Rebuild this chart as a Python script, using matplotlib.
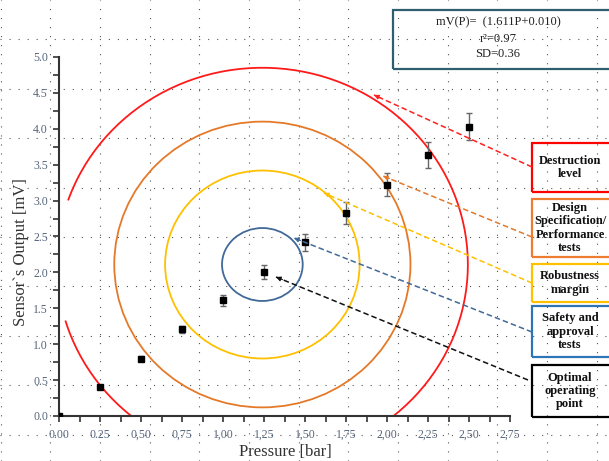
import matplotlib
matplotlib.use('Agg')
import matplotlib.pyplot as plt
from matplotlib.patches import Ellipse, Arc, Rectangle, FancyArrowPatch
from matplotlib.lines import Line2D
from matplotlib.ticker import MultipleLocator
import numpy as np

plt.rcParams['font.family'] = ['Liberation Serif', 'DejaVu Serif']
plt.rcParams['lines.scale_dashes'] = False

# ---- data ----
pressure = [0.0, 0.25, 0.50, 0.75, 1.00, 1.25, 1.50, 1.75, 2.00, 2.25, 2.50]
output_mv = [0.0, 0.40, 0.80, 1.21, 1.61, 2.01, 2.42, 2.83, 3.22, 3.63, 4.03]
output_err = [0.0, 0.02, 0.03, 0.05, 0.08, 0.10, 0.12, 0.15, 0.16, 0.18, 0.19]

x_tick_values = [0.0, 0.25, 0.50, 0.75, 1.00, 1.25, 1.50, 1.75, 2.00, 2.25, 2.50, 2.75]
x_tick_labels = ['0.00', '0.25', '0,50', '0,75', '1,00', '1,25', '1,50', '1,75',
                 '2,00', '2,25', '2,50', '2,75']
y_tick_values = [0.0, 0.5, 1.0, 1.5, 2.0, 2.5, 3.0, 3.5, 4.0, 4.5, 5.0]
y_tick_labels = ['0.0', '0.5', '1.0', '1.5', '2.0', '2.5', '3.0', '3.5', '4.0', '4.5', '5.0']

ring_center = (1.24, 2.11)
ring_names = ['Safety', 'Robustness', 'Design', 'Destruction']
ring_rx = [0.246, 0.593, 0.903, 1.253]
ring_ry = [0.508, 1.309, 1.990, 2.740]
ring_colors = ['#41699a', '#ffc000', '#e5792a', '#ff1a1a']

box_labels = ['Destruction\nlevel', 'Design\nSpecification/\nPerformance\ntests',
              'Robustness\nmargin', 'Safety and\napproval\ntests', 'Optimal\noperating\npoint']
box_colors = ['#ff0000', '#ed7d31', '#ffc000', '#2e75b6', '#000000']
line_colors = ['#ff2020', '#e5792a', '#ffc000', '#41699a', '#111111']

equation_lines = ['mV(P)=  (1.611P+0.010)', 'r\u00b2=0.97', 'SD=0.36']

# ---- layout helpers (pixel coords, origin top-left) ----
W, H = 609, 461
def fx(x):
    return x / W
def fy(y):
    return 1 - y / H

fig = plt.figure(figsize=(W / 100, H / 100), dpi=100)

# background dotted page grid
for k in range(13):
    xp = 0.5 + 49.7 * k
    fig.add_artist(Line2D([fx(xp), fx(xp)], [0, 1], transform=fig.transFigure,
                          ls=(0, (0.8, 5.7)), lw=0.8, color='#555555', zorder=-1))
for k in range(9):
    yp = 39.5 + 49.4 * k
    fig.add_artist(Line2D([0, 1], [fy(yp), fy(yp)], transform=fig.transFigure,
                          ls=(0, (0.8, 5.7)), lw=0.8, color='#555555', zorder=-1))

ax = fig.add_axes([fx(59), 1 - 416 / H, 451 / W, 359 / H])
ax.set_facecolor('none')
ax.set_xlim(0, 2.75)
ax.set_ylim(0, 5.0)

for s in ['top', 'right']:
    ax.spines[s].set_visible(False)
for s in ['left', 'bottom']:
    ax.spines[s].set_color('#333333')
    ax.spines[s].set_linewidth(1.5)

ax.set_xticks(x_tick_values)
ax.set_xticklabels(x_tick_labels)
ax.set_yticks(y_tick_values)
ax.set_yticklabels(y_tick_labels)
ax.xaxis.set_minor_locator(MultipleLocator(0.125))
ax.yaxis.set_minor_locator(MultipleLocator(0.25))
ax.tick_params(which='both', direction='out', length=4, width=1.2, color='#333333')
ax.tick_params(axis='x', which='major', labelsize=8.5, labelcolor='#56657c', pad=5)
ax.tick_params(axis='y', which='major', labelsize=8.5, labelcolor='#56657c', pad=4)

# rings
for i in range(len(ring_names)):
    if ring_names[i] == 'Destruction':
        p = Arc(ring_center, 2 * ring_rx[i], 2 * ring_ry[i], theta1=-147, theta2=143,
                color=ring_colors[i], lw=1.3, zorder=2)
    else:
        p = Ellipse(ring_center, 2 * ring_rx[i], 2 * ring_ry[i], fill=False,
                    ec=ring_colors[i], lw=1.3, zorder=2)
    ax.add_patch(p)

# data
ax.errorbar(pressure, output_mv, yerr=output_err, fmt='s', color='black', ms=4.5,
            ecolor='#666666', elinewidth=1.0, capsize=2.5, capthick=1.0, zorder=4)

# labels
fig.text(fx(285), fy(452), 'Pressure [bar]', ha='center', va='center', fontsize=12,
         color='#333333')
fig.text(fx(21), fy(252), 'Sensor`s Output [mV]', ha='center', va='center',
         fontsize=12, rotation=90, color='#333333')

# equation box
fig.add_artist(Rectangle((fx(393), fy(69)), (630 - 393) / W, (69 - 10) / H,
                         transform=fig.transFigure, fill=False, ec='#2f5e6e', lw=1.6,
                         zorder=3))
for txt, yp in zip(equation_lines, [22, 39, 54]):
    fig.text(fx(498), fy(yp), txt, ha='center', va='center', fontsize=9,
             color='#222222', zorder=4)

# legend-like boxes
box_tops = [143, 199, 264, 306, 365]
box_bottoms = [192, 257, 302, 357, 417]
for lab, col, t, b in zip(box_labels, box_colors, box_tops, box_bottoms):
    fig.add_artist(Rectangle((fx(532), fy(b)), (640 - 532) / W, (b - t) / H,
                             transform=fig.transFigure, fill=False, ec=col, lw=1.6,
                             zorder=3))
    fig.text(fx(570), fy((t + b) / 2), lab, ha='center', va='center', fontsize=9,
             fontweight='bold', linespacing=1.12, color='#111111', zorder=4)

# dashed pointer lines with arrowheads
arrow_starts = [(532, 167), (532, 237), (532, 283), (532, 332), (528, 380)]
arrow_heads = [(374, 95), (383, 176), (324, 193), (294, 238), (276, 277)]
for (sx, sy), (hx, hy), col in zip(arrow_starts, arrow_heads, line_colors):
    fig.add_artist(Line2D([fx(sx), fx(hx)], [fy(sy), fy(hy)], transform=fig.transFigure,
                          ls=(0, (4.0, 2.2)), lw=1.1, color=col, zorder=3))
    d = np.array([sx - hx, sy - hy], dtype=float)
    d /= np.hypot(*d)
    bx, by = hx + 7 * d[0], hy + 7 * d[1]
    fig.add_artist(FancyArrowPatch((fx(bx), fy(by)), (fx(hx), fy(hy)),
                                   transform=fig.transFigure, arrowstyle='-|>',
                                   mutation_scale=7, color=col, lw=0.8,
                                   shrinkA=0, shrinkB=0, zorder=3))

fig.savefig('out.png', dpi=100)
